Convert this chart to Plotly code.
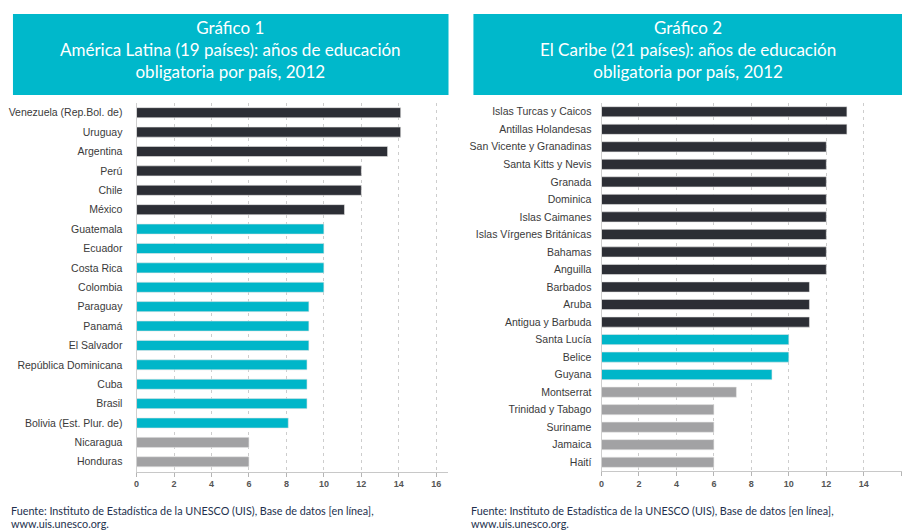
import plotly.graph_objects as go

W, H = 902, 530

# ---- Data ----
lat_countries = ["Venezuela (Rep.Bol. de)", "Uruguay", "Argentina", "Perú", "Chile", "México",
                 "Guatemala", "Ecuador", "Costa Rica", "Colombia", "Paraguay", "Panamá",
                 "El Salvador", "República Dominicana", "Cuba", "Brasil",
                 "Bolivia (Est. Plur. de)", "Nicaragua", "Honduras"]
lat_values = [14.1, 14.1, 13.4, 12.0, 12.0, 11.1, 10.0, 10.0, 10.0, 10.0, 9.2, 9.2, 9.2,
              9.1, 9.1, 9.1, 8.1, 6.0, 6.0]
lat_group = ["high"] * 6 + ["mid"] * 11 + ["low"] * 2

car_countries = ["Islas Turcas y Caicos", "Antillas Holandesas", "San Vicente y Granadinas",
                 "Santa Kitts y Nevis", "Granada", "Dominica", "Islas Caimanes",
                 "Islas Vírgenes Británicas", "Bahamas", "Anguilla", "Barbados", "Aruba",
                 "Antigua y Barbuda", "Santa Lucía", "Belice", "Guyana", "Montserrat",
                 "Trinidad y Tabago", "Suriname", "Jamaica", "Haití"]
car_values = [13.1, 13.1, 12.0, 12.0, 12.0, 12.0, 12.0, 12.0, 12.0, 12.0, 11.1, 11.1, 11.1,
              10.0, 10.0, 9.1, 7.2, 6.0, 6.0, 6.0, 6.0]
car_group = ["high"] * 13 + ["mid"] * 3 + ["low"] * 5

x_ticks = [0, 2, 4, 6, 8, 10, 12, 14, 16]

titles = ["Gráfico 1<br>América Latina (19 países): años de educación<br>obligatoria por país, 2012",
          "Gráfico 2<br>El Caribe (21 países): años de educación<br>obligatoria por país, 2012"]
source_line1 = "Fuente: Instituto de Estadística de la UNESCO (UIS), Base de datos [en línea],"
source_line2 = "www.uis.unesco.org."

# ---- Styles ----
COLORS = {"high": "#2c2e35", "mid": "#00b6c9", "low": "#a2a2a4"}
TEAL = "#00b8cb"
NAVY = "#22304d"
TITLE_FONT = "Lato, sans-serif"
LABEL_FONT = "Liberation Sans, Arial, sans-serif"


def px(x):
    return x / W


def py(y):
    return 1 - y / H


fig = go.Figure()

fig.add_trace(go.Bar(
    x=lat_values, y=lat_countries, orientation="h",
    marker=dict(color=[COLORS[g] for g in lat_group], line=dict(color="#e6e6e6", width=0.6)),
    width=0.52, xaxis="x", yaxis="y", showlegend=False, hoverinfo="x+y"))

fig.add_trace(go.Bar(
    x=car_values, y=car_countries, orientation="h",
    marker=dict(color=[COLORS[g] for g in car_group], line=dict(color="#e6e6e6", width=0.6)),
    width=0.58, xaxis="x2", yaxis="y2", showlegend=False, hoverinfo="x+y"))

xcommon = dict(
    tickvals=x_ticks, showgrid=True, gridcolor="#cdcdcd", griddash="3px,4px", gridwidth=1,
    zeroline=False, showline=True, linecolor="#c8c8c8", linewidth=1,
    ticks="outside", ticklen=4, tickcolor="#b5b5b5",
    tickfont=dict(family=LABEL_FONT, size=9, color="#555555", weight="bold"),
    fixedrange=True,
)
ycommon = dict(
    autorange="reversed", showline=True, linecolor="#cfcfcf", linewidth=1,
    ticks="", showgrid=False, zeroline=False,
    tickfont=dict(family=LABEL_FONT, size=10.5, color="#3a3a3a"),
    fixedrange=True,
)

fig.update_layout(
    width=W, height=H,
    margin=dict(l=0, r=0, t=0, b=0),
    paper_bgcolor="white", plot_bgcolor="white",
    bargap=0.5,
    xaxis=dict(domain=[px(134), px(446)], range=[0, 16.6], anchor="y", **xcommon),
    yaxis=dict(domain=[py(471.5), py(103)], anchor="x", ticklabelstandoff=11, **ycommon),
    xaxis2=dict(domain=[px(600.5), 1.0], range=[0, 16.04], anchor="y2", **xcommon),
    yaxis2=dict(domain=[py(471), py(103)], anchor="x2", ticklabelstandoff=7, **ycommon),
)

# Title boxes
boxes = [(10, 447), (472, 902)]
for (x0, x1), t in zip(boxes, titles):
    fig.add_shape(type="rect", xref="paper", yref="paper",
                  x0=px(x0), x1=px(x1), y0=py(95), y1=py(14),
                  fillcolor=TEAL, line=dict(width=0), layer="below")
    fig.add_annotation(xref="paper", yref="paper", x=px((x0 + x1) / 2), y=py(50),
                       text=t, showarrow=False, align="center",
                       xanchor="center", yanchor="middle",
                       font=dict(family=TITLE_FONT, size=17, color="white"))

# Sources
for x0 in (10, 472):
    fig.add_annotation(xref="paper", yref="paper", x=px(x0 - 4), y=py(510), text=source_line1,
                       showarrow=False, xanchor="left", yanchor="middle",
                       font=dict(family=TITLE_FONT, size=10.8, color=NAVY))
    fig.add_annotation(xref="paper", yref="paper", x=px(x0 - 4), y=py(523), text=source_line2,
                       showarrow=False, xanchor="left", yanchor="middle",
                       font=dict(family=TITLE_FONT, size=10.8, color=NAVY))

fig.write_html("out.html", config={"displayModeBar": False},
               post_script="document.body.style.margin='0';")
